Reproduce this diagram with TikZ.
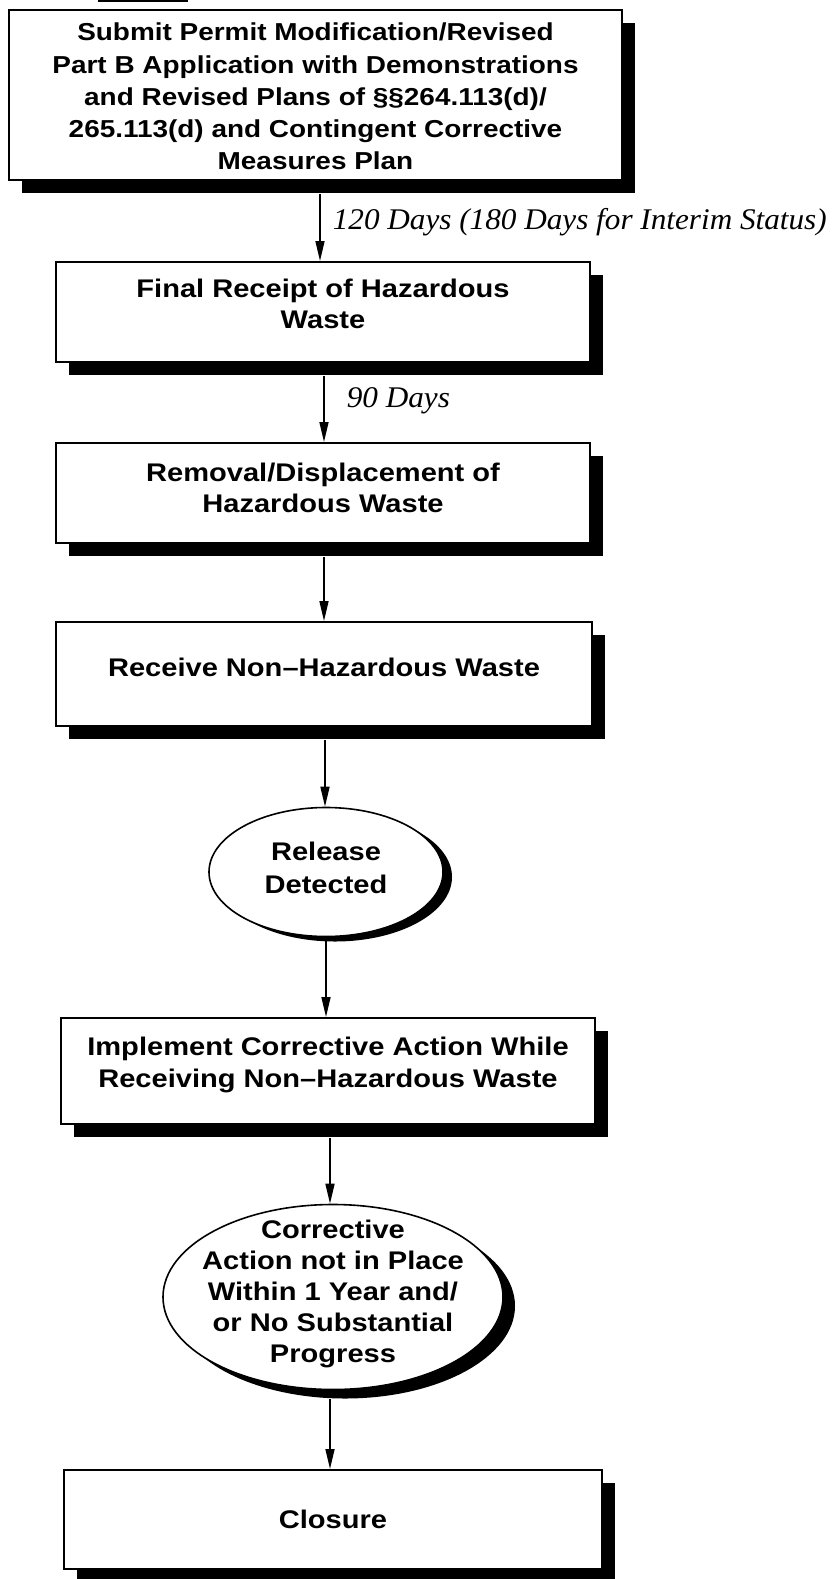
\documentclass[tikz,border=0pt]{standalone}
\usepackage{fontspec}
\setmainfont{Liberation Sans}
\newfontfamily\boxfont{Liberation Sans}[FakeStretch=1.14]
\newfontfamily\labelfont{Liberation Serif}[FakeStretch=1.04]
\usetikzlibrary{shapes.geometric,shadows,arrows.meta,calc}
\newcommand\dpstrut[1]{\rule[-#1]{0pt}{#1}}
\newcommand\htstrut[1]{\rule{0pt}{#1}}
\begin{document}
\begin{tikzpicture}[x=1bp,y=-1bp,
  fs/.style 2 args={font=\boxfont\bfseries\fontsize{#1}{#2}\selectfont},
  boxnode/.style={draw, line width=2bp, fill=white, rectangle, inner sep=0pt, align=center,
    fs={25.5bp}{31bp},
    drop shadow={shadow xshift=13bp, shadow yshift=-13bp, fill=black, opacity=1}},
  ovalnode/.style={draw, ellipse, line width=1.6bp, fill=white, inner sep=0pt},
  ovaltext/.style={inner sep=0pt, align=center, fs={25.5bp}{31bp}},
  arr/.style={line width=1.6bp, -{Triangle[length=20bp,width=9bp]}},
  daylabel/.style={font=\labelfont\itshape\fontsize{30bp}{34bp}\selectfont, anchor=west, inner sep=0pt}
]
\useasboundingbox (0,0) rectangle (833,1579);
\fill[black] (98,0) rectangle (188,2.5);

\node[boxnode, fs={24.5bp}{32.3bp}, minimum width=613bp, minimum height=170bp] (b1) at (315.5,95)
  {\htstrut{21bp}Submit Permit Modification/Revised\\Part B Application with Demonstrations\\and Revised Plans of §§264.113(d)/\\265.113(d) and Contingent Corrective\\Measures Plan};
\node[boxnode, fs={25.5bp}{31.5bp}, minimum width=534bp, minimum height=100bp] (b2) at (323,312)
  {Final Receipt of Hazardous\\Waste\dpstrut{16bp}};
\node[boxnode, fs={25.5bp}{30.5bp}, minimum width=534bp, minimum height=100bp] (b3) at (323,493)
  {Removal/Displacement of\\Hazardous Waste\dpstrut{10bp}};
\node[boxnode, minimum width=536bp, minimum height=104bp] (b4) at (324,674)
  {Receive Non–Hazardous Waste\dpstrut{14bp}};
\node[ovalnode, minimum width=234bp, minimum height=129bp,
  drop shadow={shadow xshift=9bp, shadow yshift=-5bp, fill=black, opacity=1}] (e1) at (326,872) {};
\node[ovaltext, fs={25.5bp}{32.5bp}] (e1t) at ($(e1.center)+(0,-1)$) {Release\\Detected\dpstrut{6bp}};
\node[boxnode, fs={25.5bp}{32bp}, minimum width=534bp, minimum height=106bp] (b5) at (328,1071)
  {Implement Corrective Action While\\Receiving Non–Hazardous Waste\dpstrut{18bp}};
\node[ovalnode, minimum width=340bp, minimum height=185bp,
  drop shadow={shadow xshift=12bp, shadow yshift=-9bp, fill=black, opacity=1}] (e2) at (333,1297) {};
\node[ovaltext] (e2t) at ($(e2.center)+(0,-3)$)
  {Corrective\\Action not in Place\\Within 1 Year and/\\or No Substantial\\Progress};
\node[boxnode, minimum width=538bp, minimum height=99bp] (b6) at (333,1519.5)
  {Closure};

\draw[arr] ($(b1.south)+(4.5,13)$) coordinate (a1) -- (a1 |- b2.north)
  node[daylabel, pos=0.42, xshift=12bp] {120 Days (180 Days for Interim Status)};
\draw[arr] ($(b2.south)+(1,13)$) coordinate (a2) -- (a2 |- b3.north)
  node[daylabel, pos=0.38, xshift=22bp] {90 Days};
\draw[arr] ($(b3.south)+(1,13)$) coordinate (a3) -- (a3 |- b4.north);
\draw[arr] ($(b4.south)+(1,13)$) coordinate (a4) -- (a4 |- e1.north);
\draw[arr] ($(e1.south)+(0,4)$) coordinate (a5) -- (a5 |- b5.north);
\draw[arr] ($(b5.south)+(2,13)$) coordinate (a6) -- (a6 |- e2.north);
\draw[arr] ($(e2.south)+(-3,9)$) coordinate (a7) -- (a7 |- b6.north);
\end{tikzpicture}
\end{document}
